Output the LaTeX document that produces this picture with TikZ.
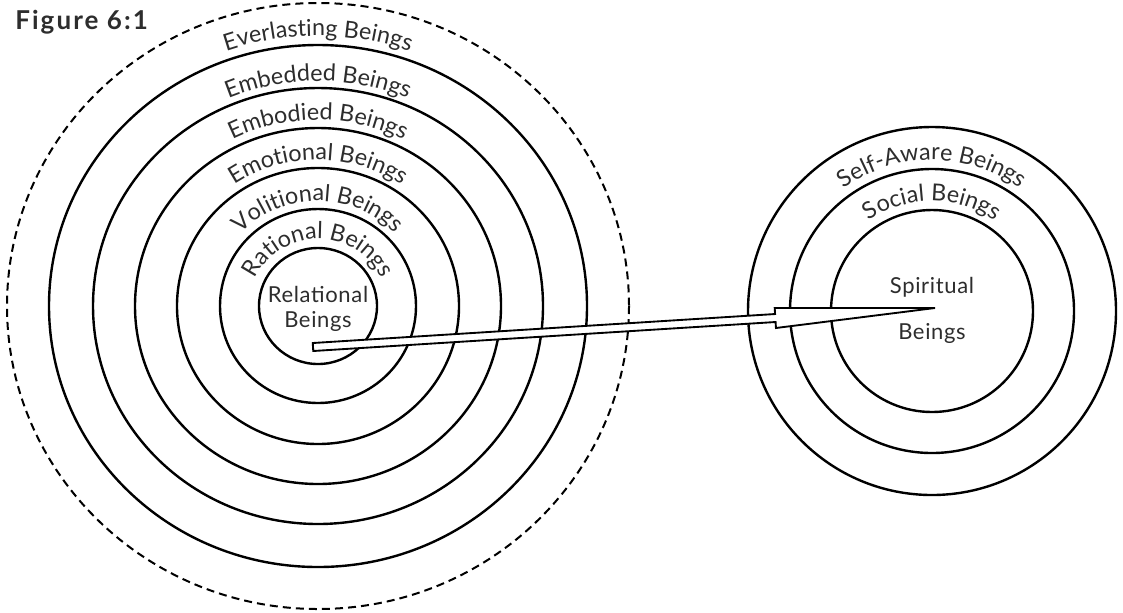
\documentclass[tikz,border=0pt]{standalone}
\usepackage{fontspec}
\setmainfont{Lato}
\newfontfamily\ringfont{Lato}
\newfontfamily\centrefont[LetterSpace=3]{Lato}
\newfontfamily\figfont[LetterSpace=8]{Lato Bold}
\usetikzlibrary{calc, decorations.text}
\definecolor{inkgray}{RGB}{45,45,45}

\begin{document}
\begin{tikzpicture}[x=0.75pt, y=-0.75pt,
    ringline/.style={line width=1.8pt},
    outerline/.style={line width=1.5pt, dash pattern=on 6pt off 3.8pt},
    arrowbody/.style={draw, fill=white, line width=1.4pt, line join=miter},
    beingtext/.style={anchor=base, inner sep=0pt, text=inkgray, font=\centrefont\fontsize{16.5}{18}\selectfont}]
    \useasboundingbox (0,0) rectangle (1123,612);

    % Centres of the two groups
    \coordinate (lc) at (318,306);
    \coordinate (rc) at (932,311);

    % Left group: rings
    \draw[outerline] (lc) ellipse [x radius=311, y radius=303];
    \foreach \rx/\ry in {269/261, 225/218, 183/178, 141/138, 98/97, 59/58}
        \draw[ringline] (lc) ellipse [x radius=\rx, y radius=\ry];

    % Right group: rings
    \foreach \r in {184, 142, 101}
        \draw[ringline] (rc) circle [radius=\r];

    % Ring labels, left
    \foreach \rx/\ry/\txt in {69/67/Rational Beings, 107/105/Volitional Beings,
                              150/146/Emotional Beings, 191/186/Embodied Beings,
                              232/225/Embedded Beings, 278/270/Everlasting Beings}
        \path[decorate, decoration={text along path, text align=center,
                text={|\ringfont\fontsize{17.5}{18}\selectfont\color{inkgray}|\txt}}]
            ($(lc)+({\rx*cos(140)},{\ry*sin(140)})$) arc [start angle=140, end angle=400, x radius=\rx, y radius=\ry];

    % Ring labels, right
    \foreach \r/\txt in {110/Social Beings, 151/Self-Aware Beings}
        \path[decorate, decoration={text along path, text align=center,
                text={|\ringfont\fontsize{17.5}{18}\selectfont\color{inkgray}|\txt}}]
            ($(rc)+(150:\r)$) arc [start angle=150, end angle=390, radius=\r];

    % Centre texts
    \node[beingtext] (relword) at (318,302) {Relational};
    \node[beingtext] (relbeings) at (318,327) {Beings};
    \node[beingtext] (spiword) at (932,293) {Spiritual};
    \node[beingtext] (spibeings) at (932,339) {Beings};

    % Arrow from the inner circle to the spiritual centre
    \coordinate (tail) at (313,347);
    \coordinate (tip) at (935,308);
    \coordinate (hb) at ($(tip)!120pt!(tail)$);
    \draw[arrowbody] ($(tail)!3pt!90:(tip)$) -- ($(hb)!3pt!-90:(tail)$)
        -- ($(hb)!7.5pt!-90:(tail)$) -- (tip) -- ($(hb)!7.5pt!90:(tail)$)
        -- ($(hb)!3pt!90:(tail)$) -- ($(tail)!3pt!-90:(tip)$) -- cycle;

    % Caption
    \node[anchor=base west, inner sep=0pt, text=inkgray, font=\figfont\fontsize{19.5}{22}\selectfont] (figlabel) at (15,29) {Figure 6:1};
\end{tikzpicture}
\end{document}
